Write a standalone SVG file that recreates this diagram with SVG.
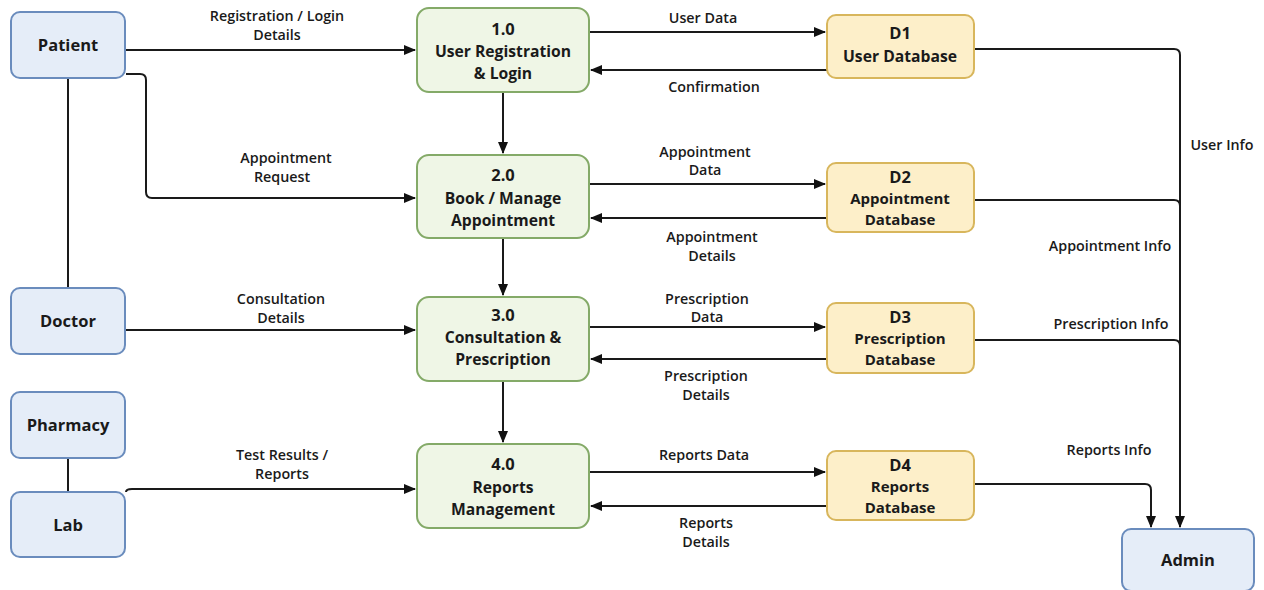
<svg xmlns="http://www.w3.org/2000/svg" width="1264" height="590" viewBox="0 0 1264 590">
<defs>
<marker id="ah" markerWidth="12" markerHeight="10" refX="11" refY="5" orient="auto" markerUnits="userSpaceOnUse">
<path d="M0,0 L12,5 L0,10 Z" fill="#111"/>
</marker>
<style>
.ext{fill:#e5edf8;stroke:#6a8cbd;stroke-width:2}
.proc{fill:#eff6e6;stroke:#84aa68;stroke-width:2}
.store{fill:#fdefc9;stroke:#d8b65c;stroke-width:2}
.nt{font-family:"Open Sans","Noto Sans",sans-serif;font-weight:700;font-size:16.5px;fill:#1a1a1a;text-anchor:middle}
.nt2{font-family:"Open Sans","Noto Sans",sans-serif;font-weight:700;font-size:15.7px;fill:#1a1a1a;text-anchor:middle}
.nt3{font-family:"Open Sans","Noto Sans",sans-serif;font-weight:700;font-size:15px;fill:#1a1a1a;text-anchor:middle}
.lb{font-family:"Open Sans","Noto Sans",sans-serif;font-weight:600;font-size:14.3px;fill:#1a1a1a;text-anchor:middle}
.ln{fill:none;stroke:#1a1a1a;stroke-width:2}
.ar{fill:none;stroke:#1a1a1a;stroke-width:2;marker-end:url(#ah)}
</style>
</defs>
<rect width="1264" height="590" fill="#ffffff"/>

<g id="connectors">
<path class="ln" d="M68,78 V288"/>
<path class="ln" d="M68,458 V492"/>
<path class="ar" d="M126,50 H415"/>
<path class="ar" d="M126,74 H140 Q146,74 146,80 V192 Q146,198 152,198 H415"/>
<path class="ar" d="M126,330 H415"/>
<path class="ar" d="M126,492 Q126,489 132,489 H415"/>
<path class="ar" d="M503,92 V153"/>
<path class="ar" d="M503,238 V295"/>
<path class="ar" d="M503,381 V442"/>
<path class="ar" d="M589,32 H825"/>
<path class="ar" d="M827,70 H591"/>
<path class="ar" d="M589,184 H825"/>
<path class="ar" d="M827,218 H591"/>
<path class="ar" d="M589,327 H825"/>
<path class="ar" d="M827,359 H591"/>
<path class="ar" d="M589,472 H825"/>
<path class="ar" d="M827,506 H591"/>
<path class="ar" d="M974,49 H1174 Q1180,49 1180,55 V527"/>
<path class="ln" d="M974,200 H1174 Q1180,200 1180,206"/>
<path class="ln" d="M974,340 H1174 Q1180,340 1180,346"/>
<path class="ar" d="M974,484 H1145 Q1151,484 1151,490 V527"/>
<text class="lb" x="277" y="21">Registration / Login</text>
<text class="lb" x="277" y="40">Details</text>
<text class="lb" x="286" y="163">Appointment</text>
<text class="lb" x="282" y="182">Request</text>
<text class="lb" x="281" y="304">Consultation</text>
<text class="lb" x="281" y="323">Details</text>
<text class="lb" x="282" y="460">Test Results /</text>
<text class="lb" x="282" y="479">Reports</text>
<text class="lb" x="703" y="23">User Data</text>
<text class="lb" x="714" y="92">Confirmation</text>
<text class="lb" x="705" y="157">Appointment</text>
<text class="lb" x="705" y="175">Data</text>
<text class="lb" x="712" y="242">Appointment</text>
<text class="lb" x="712" y="261">Details</text>
<text class="lb" x="707" y="304">Prescription</text>
<text class="lb" x="707" y="322">Data</text>
<text class="lb" x="706" y="381">Prescription</text>
<text class="lb" x="706" y="400">Details</text>
<text class="lb" x="704" y="460">Reports Data</text>
<text class="lb" x="706" y="528">Reports</text>
<text class="lb" x="706" y="547">Details</text>
<text class="lb" x="1222" y="150">User Info</text>
<text class="lb" x="1110" y="251">Appointment Info</text>
<text class="lb" x="1111" y="329">Prescription Info</text>
<text class="lb" x="1109" y="455">Reports Info</text>
</g>

<g id="patient"><rect class="ext" x="11" y="12" width="114" height="66" rx="9"/><text class="nt" x="68" y="51">Patient</text></g>
<g id="doctor"><rect class="ext" x="11" y="288" width="114" height="66" rx="9"/><text class="nt" x="68" y="327">Doctor</text></g>
<g id="pharmacy"><rect class="ext" x="11" y="392" width="114" height="66" rx="9"/><text class="nt" x="68" y="431">Pharmacy</text></g>
<g id="lab"><rect class="ext" x="11" y="492" width="114" height="65" rx="9"/><text class="nt" x="68" y="531">Lab</text></g>
<g id="admin"><rect class="ext" x="1122" y="529" width="132" height="62" rx="9"/><text class="nt" x="1188" y="566">Admin</text></g>

<g id="p1"><rect class="proc" x="417" y="8" width="172" height="84" rx="12"/><text class="nt" x="503" y="35">1.0</text><text class="nt2" x="503" y="57">User Registration</text><text class="nt2" x="503" y="79">&amp; Login</text></g>
<g id="p2"><rect class="proc" x="417" y="155" width="172" height="83" rx="12"/><text class="nt" x="503" y="181">2.0</text><text class="nt2" x="503" y="204">Book / Manage</text><text class="nt2" x="503" y="226">Appointment</text></g>
<g id="p3"><rect class="proc" x="417" y="297" width="172" height="84" rx="12"/><text class="nt" x="503" y="321">3.0</text><text class="nt2" x="503" y="343">Consultation &amp;</text><text class="nt2" x="503" y="365">Prescription</text></g>
<g id="p4"><rect class="proc" x="417" y="444" width="172" height="84" rx="12"/><text class="nt" x="503" y="470">4.0</text><text class="nt2" x="503" y="493">Reports</text><text class="nt2" x="503" y="515">Management</text></g>

<g id="d1"><rect class="store" x="827" y="15" width="147" height="63" rx="9"/><text class="nt" x="900" y="39">D1</text><text class="nt2" x="900" y="62">User Database</text></g>
<g id="d2"><rect class="store" x="827" y="163" width="147" height="69" rx="9"/><text class="nt" x="900" y="183">D2</text><text class="nt3" x="900" y="204">Appointment</text><text class="nt3" x="900" y="225">Database</text></g>
<g id="d3"><rect class="store" x="827" y="303" width="147" height="70" rx="9"/><text class="nt" x="900" y="323">D3</text><text class="nt3" x="900" y="344">Prescription</text><text class="nt3" x="900" y="365">Database</text></g>
<g id="d4"><rect class="store" x="827" y="451" width="147" height="69" rx="9"/><text class="nt" x="900" y="471">D4</text><text class="nt3" x="900" y="492">Reports</text><text class="nt3" x="900" y="513">Database</text></g>
</svg>
